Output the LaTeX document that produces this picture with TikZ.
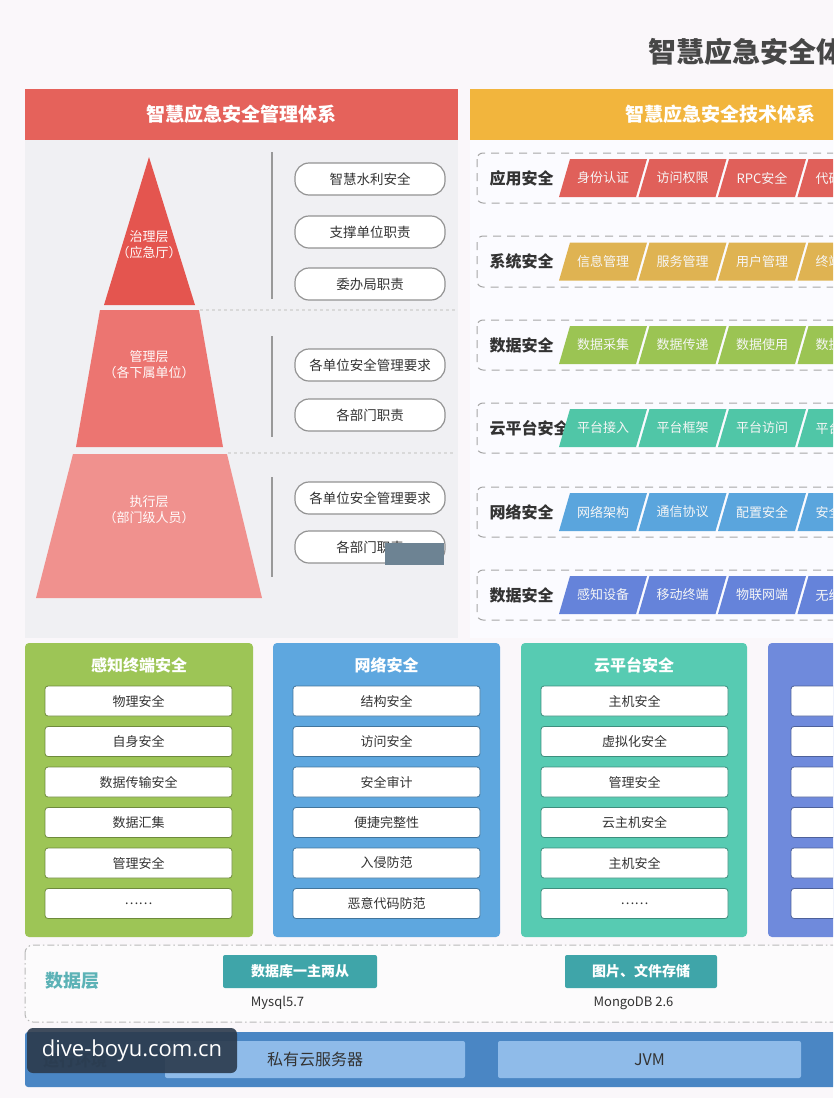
\documentclass[tikz,border=0pt]{standalone}
\usepackage{fontspec}
\setmainfont{Noto Sans CJK SC}
\newfontfamily\wmfont{Open Sans}
\usepackage{tikz}
\usetikzlibrary{positioning}

\definecolor{pagebg}{HTML}{FAF7FA}
\definecolor{panelbg}{HTML}{F0F0F3}
\definecolor{mgmtred}{HTML}{E5625B}
\definecolor{techgold}{HTML}{F2B53D}
\definecolor{pyrtop}{HTML}{E4554F}
\definecolor{pyrmid}{HTML}{EC7571}
\definecolor{pyrbot}{HTML}{F0918E}
\definecolor{rowred}{HTML}{E0605A}
\definecolor{rowgold}{HTML}{DFB352}
\definecolor{rowgreen}{HTML}{9BC453}
\definecolor{rowteal}{HTML}{50C6A7}
\definecolor{rowblue}{HTML}{5AA5DD}
\definecolor{rowindigo}{HTML}{6583DA}
\definecolor{colgreen}{HTML}{9DC556}
\definecolor{colblue}{HTML}{5EA7DF}
\definecolor{colteal}{HTML}{57CBB2}
\definecolor{colindigo}{HTML}{6F8ADC}
\definecolor{dbteal}{HTML}{3FA5A9}
\definecolor{envblue}{HTML}{4A86C4}
\definecolor{envbox}{HTML}{8FBBE9}
\definecolor{txtdark}{HTML}{333333}
\definecolor{wmdark}{HTML}{2B3A4C}
\definecolor{wmsmall}{HTML}{6D8393}

\tikzset{
  headertxt/.style={font=\fontsize{19}{22}\selectfont\bfseries, text=white},
  layerlbl/.style={font=\fontsize{13}{16}\selectfont, text=white!92!pink, align=center},
  pill/.style={draw=gray!85, line width=1.2pt, fill=white, rounded corners=14pt,
    minimum width=150pt, minimum height=32pt, font=\fontsize{13.5}{16}\selectfont, text=txtdark},
  rowbox/.style={draw=gray!70, dash pattern=on 8pt off 6pt, line width=1pt, rounded corners=6pt},
  rowlbl/.style={anchor=west, font=\fontsize{16}{19}\selectfont\bfseries, text=txtdark},
  tagbox/.style={minimum width=88pt, minimum height=38pt, inner sep=0pt,
    font=\fontsize{13}{15}\selectfont, text=white!93!gray,
    path picture={\fill[#1] (path picture bounding box.south west) -- ++(77pt,0pt)
      -- (path picture bounding box.north east) -- ++(-77pt,0pt) -- cycle;}},
  coltitle/.style={font=\fontsize{16}{19}\selectfont\bfseries, text=white},
  itembox/.style={draw=#1!70!black, line width=0.8pt, fill=white, rounded corners=3pt,
    minimum width=187pt, minimum height=30pt, font=\fontsize{13}{15}\selectfont, text=txtdark},
  dbbtn/.style={fill=dbteal, rounded corners=2pt, minimum height=33pt,
    font=\fontsize{14}{16}\selectfont\bfseries, text=white},
  envbtn/.style={fill=envbox, rounded corners=2pt, minimum height=37pt,
    font=\fontsize{16}{19}\selectfont, text=txtdark}
}

\begin{document}
\begin{tikzpicture}[x=1pt,y=-1pt]
  \useasboundingbox (0,0) rectangle (833,1098);
  \clip (0,0) rectangle (833,1098);
  \fill[pagebg] (0,0) rectangle (833,1098);

  % title and headers
  \node[anchor=west, font=\fontsize{28}{32}\selectfont\bfseries, text=black!72] (title) at (645,52) {智慧应急安全体系};
  \node[headertxt, fill=mgmtred, minimum width=433pt, minimum height=51pt, inner sep=0pt] (mgmt) at (241.5,114.5) {智慧应急安全管理体系};
  \fill[techgold] (470,89) rectangle (900,140);
  \node[headertxt] (tech) at (720,114.5) {智慧应急安全技术体系};

  % panels
  \fill[panelbg] (25,140) rectangle (458,638);
  \fill[panelbg!60!blue!4] (470,140) rectangle (900,638);

  % pyramid
  \fill[pyrtop] (149,157) -- (195,305) -- (104,305) -- cycle;
  \fill[pyrmid] (100,310) -- (199,310) -- (223,447) -- (76,447) -- cycle;
  \fill[pyrbot] (73,454) -- (227,454) -- (262,598) -- (36,598) -- cycle;
  \node[layerlbl] (gov) at (149,245) {治理层\\（应急厅）};
  \node[layerlbl] (mgr) at (149,365) {管理层\\（各下属单位）};
  \node[layerlbl] (exe) at (149,510) {执行层\\（部门级人员）};

  \draw[gray!80, line width=1.2pt] (272,152) -- (272,299);
  \draw[gray!80, line width=1.2pt] (272,336) -- (272,437);
  \draw[gray!80, line width=1.2pt] (272,477) -- (272,577);
  \draw[gray!30, dashed, line width=1.2pt] (200,310) -- (455,310);
  \draw[gray!30, dashed, line width=1.2pt] (228,453) -- (455,453);

  \begin{scope}[every node/.style={pill}]
    \node (p1) at (370,179) {智慧水利安全};
    \node (p2) at (370,232) {支撑单位职责};
    \node (p3) at (370,284) {委办局职责};
    \node (p4) at (370,365) {各单位安全管理要求};
    \node (p5) at (370,415) {各部门职责};
    \node (p6) at (370,498) {各单位安全管理要求};
    \node (p7) at (370,547) {各部门职责};
  \end{scope}
  \fill[wmsmall] (385,543) rectangle (444,565);

  % technical rows
  \draw[rowbox] (477,153) rectangle (900,203);
  \draw[rowbox] (477,236) rectangle (900,287);
  \draw[rowbox] (477,320) rectangle (900,370);
  \draw[rowbox] (477,403) rectangle (900,453);
  \draw[rowbox] (477,487) rectangle (900,537);
  \draw[rowbox] (477,570) rectangle (900,620);

  \node[rowlbl] (app) at (486,178) {应用安全};
  \node[rowlbl] (sys) at (486,261.5) {系统安全};
  \node[rowlbl] (dat) at (486,345) {数据安全};
  \node[rowlbl] (cld) at (486,428) {云平台安全};
  \node[rowlbl] (net) at (486,512) {网络安全};
  \node[rowlbl] (dev) at (486,595) {数据安全};

  \begin{scope}[every node/.style={tagbox=rowred}]
    \node (app1) at (603,178) {身份认证};
    \node (app2) at (682.5,178) {访问权限};
    \node (app3) at (762,178) {RPC安全};
    \node (app4) at (841.5,178) {代码安全};
  \end{scope}
  \begin{scope}[every node/.style={tagbox=rowgold}]
    \node (sys1) at (603,261.5) {信息管理};
    \node (sys2) at (682.5,261.5) {服务管理};
    \node (sys3) at (762,261.5) {用户管理};
    \node (sys4) at (841.5,261.5) {终端管理};
  \end{scope}
  \begin{scope}[every node/.style={tagbox=rowgreen}]
    \node (dat1) at (603,345) {数据采集};
    \node (dat2) at (682.5,345) {数据传递};
    \node (dat3) at (762,345) {数据使用};
    \node (dat4) at (841.5,345) {数据存储};
  \end{scope}
  \begin{scope}[every node/.style={tagbox=rowteal}]
    \node (cld1) at (603,428) {平台接入};
    \node (cld2) at (682.5,428) {平台框架};
    \node (cld3) at (762,428) {平台访问};
    \node (cld4) at (841.5,428) {平台安全};
  \end{scope}
  \begin{scope}[every node/.style={tagbox=rowblue}]
    \node (net1) at (603,512) {网络架构};
    \node (net2) at (682.5,512) {通信协议};
    \node (net3) at (762,512) {配置安全};
    \node (net4) at (841.5,512) {安全审计};
  \end{scope}
  \begin{scope}[every node/.style={tagbox=rowindigo}]
    \node (dev1) at (603,595) {感知设备};
    \node (dev2) at (682.5,595) {移动终端};
    \node (dev3) at (762,595) {物联网端};
    \node (dev4) at (841.5,595) {无线网络};
  \end{scope}

  % security columns
  \fill[colgreen, rounded corners=4pt] (25,643) rectangle (253,937);
  \fill[colblue, rounded corners=4pt] (273,643) rectangle (500,937);
  \fill[colteal, rounded corners=4pt] (521,643) rectangle (747,937);
  \fill[colindigo, rounded corners=4pt] (768,643) rectangle (1000,937);
  \node[coltitle] (term) at (139,665) {感知终端安全};
  \node[coltitle] (netw) at (386.5,665) {网络安全};
  \node[coltitle] (cloud) at (634,665) {云平台安全};

  \begin{scope}[every node/.style={itembox=colgreen}]
    \node (t1) at (138.5,701) {物理安全};
    \node (t2) at (138.5,741.5) {自身安全};
    \node (t3) at (138.5,782) {数据传输安全};
    \node (t4) at (138.5,822.5) {数据汇集};
    \node (t5) at (138.5,863) {管理安全};
    \node (t6) at (138.5,903.5) {……};
  \end{scope}
  \begin{scope}[every node/.style={itembox=colblue}]
    \node (n1) at (386.5,701) {结构安全};
    \node (n2) at (386.5,741.5) {访问安全};
    \node (n3) at (386.5,782) {安全审计};
    \node (n4) at (386.5,822.5) {便捷完整性};
    \node (n5) at (386.5,863) {入侵防范};
    \node (n6) at (386.5,903.5) {恶意代码防范};
  \end{scope}
  \begin{scope}[every node/.style={itembox=colteal}]
    \node (c1) at (634.5,701) {主机安全};
    \node (c2) at (634.5,741.5) {虚拟化安全};
    \node (c3) at (634.5,782) {管理安全};
    \node (c4) at (634.5,822.5) {云主机安全};
    \node (c5) at (634.5,863) {主机安全};
    \node (c6) at (634.5,903.5) {……};
  \end{scope}
  \begin{scope}[every node/.style={itembox=colindigo}]
    \node (d1) at (884.5,701) {};
    \node (d2) at (884.5,741.5) {};
    \node (d3) at (884.5,782) {};
    \node (d4) at (884.5,822.5) {};
    \node (d5) at (884.5,863) {};
    \node (d6) at (884.5,903.5) {};
  \end{scope}

  % data layer
  \draw[gray!55, fill=white!50!pagebg, line width=1pt, rounded corners=8pt,
    dash pattern=on 7pt off 3pt on 1.5pt off 3pt] (25,945) rectangle (900,1022);
  \node[font=\fontsize{18}{21}\selectfont\bfseries, text=dbteal!85] (datalayer) at (72,981) {数据层};
  \node[dbbtn, minimum width=154pt] (mysql) at (300,971.5) {数据库一主两从};
  \node[dbbtn, minimum width=152pt] (mongo) at (641,971.5) {图片、文件存储};
  \node[font=\fontsize{13}{15}\selectfont, text=txtdark] (mysqlv) at (277.5,1003) {Mysql5.7};
  \node[font=\fontsize{13}{15}\selectfont, text=txtdark] (mongov) at (633.5,1003) {MongoDB 2.6};

  % runtime environment
  \fill[envblue, rounded corners=3pt] (25,1032) rectangle (900,1087);
  \node[font=\fontsize{16}{19}\selectfont\bfseries, text=envblue!70!black] (env) at (75,1060) {运行环境};
  \node[envbtn, minimum width=300pt] (cloudsrv) at (315,1059.5) {私有云服务器};
  \node[envbtn, minimum width=303pt] (jvm) at (649.5,1059.5) {JVM};

  % watermark
  \node[fill=wmdark, fill opacity=0.9, text opacity=1, rounded corners=6pt,
    minimum width=210pt, minimum height=45pt, text=white,
    font=\wmfont\fontsize{22}{26}\selectfont] (wm) at (132,1050.5) {dive-boyu.com.cn};
\end{tikzpicture}
\end{document}
